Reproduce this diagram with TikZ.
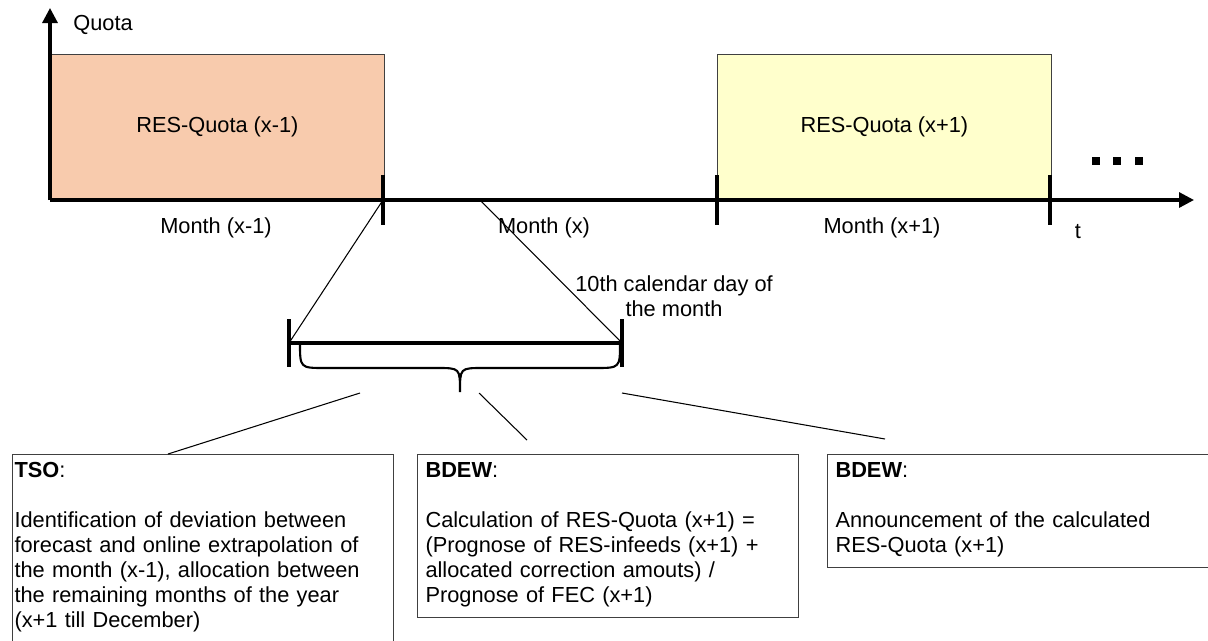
\documentclass[tikz,border=0pt]{standalone}
\usepackage{fontspec}
\setmainfont{Liberation Sans}
\usetikzlibrary{arrows.meta,positioning,calc}

\definecolor{peach}{HTML}{F8CBAD}
\definecolor{paleyellow}{HTML}{FFFFCC}
\definecolor{rim}{HTML}{404040}

\begin{document}
\begin{tikzpicture}[
  x=0.02cm, y=-0.02cm,
  font=\fontsize{12.4pt}{14.2pt}\selectfont,
  >={Triangle[length=0.3cm,width=0.3cm]},
  axis/.style={line width=1.8pt},
  tickline/.style={line width=1.8pt},
  thinline/.style={line width=0.6pt},
  quota/.style={draw=rim, line width=0.5pt, anchor=south west, minimum width=6.68cm, minimum height=2.9cm},
  lbl/.style={inner sep=0pt},
  card/.style={draw=rim, line width=0.6pt, anchor=north west, align=left, inner xsep=0.16cm, inner ysep=0.16cm}
]
\path[use as bounding box, clip] (0,0) rectangle (1208,640);

% time axis
\coordinate (origin) at (50,200);
\coordinate (top) at (50,8);
\coordinate (tend) at (1194,200);
\coordinate (m1) at (383,200);
\coordinate (m2) at (717,200);
\coordinate (m3) at (1050,200);

\node[quota, fill=peach] (qprev) at (origin) {RES-Quota (x-1)};
\node[quota, fill=paleyellow] (qnext) at (m2) {RES-Quota (x+1)};

\draw[axis, ->] (origin) -- (top);
\draw[axis, ->] (origin) -- (tend);
\foreach \m in {m1,m2,m3}
  \draw[tickline] ($(\m)+(0,-25)$) -- ($(\m)+(0,25)$);

\node[lbl, anchor=west] (qlabel) at (73,25) {Quota};
\node[lbl] (mprev) at (216,228) {Month (x-1)};
\node[lbl] (mcur) at (544,228) {Month (x)};
\node[lbl] (mnext) at (882,228) {Month (x+1)};
\node[lbl] (tlabel) at (1078,232) {t};

\foreach \x in {1096,1117,1139}
  \fill (\x-4,157) rectangle (\x+4,165);

% zoom on the first days of month (x)
\coordinate (zs) at (480,200);
\coordinate (bl) at (289,343);
\coordinate (br) at (622,343);
\draw[thinline] (m1) -- (bl);
\draw[thinline] (zs) -- (br);
\draw[tickline] (bl) -- (br);
\draw[tickline] ($(bl)+(0,-24)$) -- ($(bl)+(0,24)$);
\draw[tickline] ($(br)+(0,-24)$) -- ($(br)+(0,24)$);
\node[lbl, align=center] (dayten) at (674,296) {10th calendar day of\\the month};

% brace
\draw[line width=1.2pt] (300,343) .. controls (300,368) .. (325,368) -- (437,368)
  .. controls (460,368) .. (460,392) .. controls (460,368) .. (483,368) -- (595,368)
  .. controls (620,368) .. (620,343);

% who does what
\node[card, inner xsep=0.04cm, text width=7.54cm] (tso) at (12,454) {\textbf{TSO}:\\[14.2pt]
  Identification of deviation between\\forecast and online extrapolation of\\the month (x-1), allocation between\\the remaining months of the year\\(x+1 till December)\strut};
\node[card, text width=7.3cm] (calc) at (417,454) {\textbf{BDEW}:\\[14.2pt]
  Calculation of RES-Quota (x+1) =\\(Prognose of RES-infeeds (x+1) +\\allocated correction amouts) /\\Prognose of FEC (x+1)\strut};
\node[card, text width=8cm] (announce) at (827,454) {\textbf{BDEW}:\\[14.2pt]
  Announcement of the calculated\\RES-Quota (x+1)\strut};

\coordinate (c1) at (360,393);
\coordinate (c2) at (479,393);
\coordinate (c3) at (622,393);
\coordinate (e2) at (527,440);
\coordinate (e3) at (885,439);
\draw[thinline] (c1) -- (tso.north west -| 168,0);
\draw[thinline] (c2) -- (e2);
\draw[thinline] (c3) -- (e3);

\end{tikzpicture}
\end{document}
